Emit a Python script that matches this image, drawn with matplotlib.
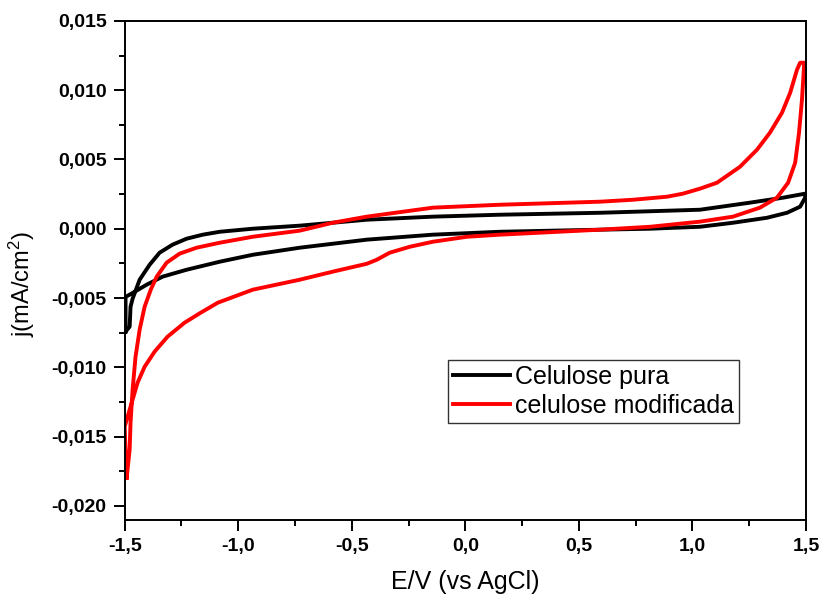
import matplotlib
matplotlib.use("Agg")
import matplotlib.pyplot as plt
from matplotlib.ticker import MultipleLocator, FuncFormatter

plt.rcParams['font.family'] = ['Liberation Sans', 'DejaVu Sans']
plt.rcParams['mathtext.default'] = 'regular'

# Celulose pura: anodic branch from -1.5 V to 1.5 V, then the return branch
pura_E = [-1.496, -1.478, -1.474, -1.465, -1.456, -1.434, -1.390, -1.346, -1.289,
          -1.227, -1.156, -1.081, -0.936, -0.729, -0.434, -0.143, 0.152, 0.593,
          1.033, 1.253, 1.399, 1.496,
          1.496, 1.474, 1.416, 1.328, 1.178, 1.033, 0.813, 0.593, 0.152, -0.143,
          -0.434, -0.729, -0.936, -1.081, -1.227, -1.333, -1.403, -1.478, -1.496,
          -1.496]
pura_j = [-0.00743, -0.00707, -0.00563, -0.00505, -0.00466, -0.00368, -0.00260,
          -0.00173, -0.00115, -0.00072, -0.00043, -0.00022, 0.00000, 0.00022,
          0.00065, 0.00087, 0.00101, 0.00115, 0.00137, 0.00188, 0.00224, 0.00253,
          0.00224, 0.00159, 0.00115, 0.00079, 0.00043, 0.00014, 0.00000, -0.00007,
          -0.00022, -0.00043, -0.00079, -0.00137, -0.00188, -0.00238, -0.00296,
          -0.00346, -0.00404, -0.00476, -0.00491,
          -0.00743]

# celulose modificada
mod_E = [-1.491, -1.478, -1.474, -1.465, -1.452, -1.434, -1.412, -1.385, -1.359,
         -1.315, -1.258, -1.183, -1.081, -0.936, -0.729, -0.584, -0.434, -0.143,
         0.152, 0.593, 0.738, 0.888, 0.958, 1.033, 1.108, 1.209, 1.284, 1.341,
         1.394, 1.430, 1.460, 1.474, 1.491,
         1.491, 1.482, 1.469, 1.452, 1.421, 1.372, 1.297, 1.178, 1.033, 0.813,
         0.593, 0.152, 0.007, -0.143, -0.244, -0.333, -0.390, -0.434, -0.584,
         -0.729, -0.936, -1.090, -1.165, -1.236, -1.311, -1.368, -1.412, -1.443,
         -1.465, -1.487, -1.500,
         -1.491]
mod_j = [-0.01797, -0.01595, -0.01400, -0.01162, -0.00924, -0.00729, -0.00563,
         -0.00440, -0.00346, -0.00245, -0.00180, -0.00137, -0.00101, -0.00058,
         -0.00014, 0.00043, 0.00087, 0.00152, 0.00173, 0.00195, 0.00209, 0.00231,
         0.00253, 0.00289, 0.00332, 0.00447, 0.00570, 0.00693, 0.00837, 0.00981,
         0.01147, 0.01198, 0.01198,
         0.01169, 0.00931, 0.00693, 0.00476, 0.00332, 0.00224, 0.00152, 0.00087,
         0.00051, 0.00014, -0.00007, -0.00043, -0.00058, -0.00094, -0.00130,
         -0.00173, -0.00224, -0.00253, -0.00310, -0.00368, -0.00440, -0.00534,
         -0.00606, -0.00678, -0.00779, -0.00887, -0.00996, -0.01111, -0.01234,
         -0.01356, -0.01429,
         -0.01797]

labels = ['Celulose pura', 'celulose modificada']

fig = plt.figure(figsize=(8.2, 5.96), dpi=100)
ax = fig.add_axes([0.152, 0.128, 0.831, 0.837])

ax.plot(pura_E, pura_j, color='black', lw=2.8, label=labels[0], solid_joinstyle='round')
ax.plot(mod_E, mod_j, color='#ff0000', lw=2.8, label=labels[1], solid_joinstyle='round')

ax.set_xlim(-1.5, 1.5)
ax.set_ylim(-0.021, 0.015)

ax.xaxis.set_major_locator(MultipleLocator(0.5))
ax.xaxis.set_minor_locator(MultipleLocator(0.25))
ax.yaxis.set_major_locator(MultipleLocator(0.005))
ax.yaxis.set_minor_locator(MultipleLocator(0.0025))
ax.xaxis.set_major_formatter(FuncFormatter(lambda v, p: f"{v:.1f}".replace('.', ',').replace('-0,0', '0,0')))
ax.yaxis.set_major_formatter(FuncFormatter(lambda v, p: f"{v:.3f}".replace('.', ',').replace('-0,000', '0,000')))

ax.tick_params(which='both', direction='out', top=False, right=False, width=1.4)
ax.tick_params(which='major', length=8, labelsize=14, pad=5)
ax.tick_params(which='minor', length=4.5)
for t in ax.get_xticklabels() + ax.get_yticklabels():
    t.set_fontweight('bold')
for s in ax.spines.values():
    s.set_linewidth(1.4)

ax.set_xlabel('E/V (vs AgCl)', fontsize=18, labelpad=11)
ax.set_ylabel('j(mA/cm$^2$)', fontsize=17)
ax.yaxis.set_label_coords(-0.128, 0.473)

leg = ax.legend(loc='upper left', bbox_to_anchor=(0.474, 0.321), borderaxespad=0,
                fontsize=18, frameon=True, fancybox=False, framealpha=1,
                edgecolor='#333333', borderpad=0.2, labelspacing=0.2,
                handlelength=2.3, handletextpad=0.2)
leg.get_frame().set_linewidth(1.0)

fig.savefig('out.png', dpi=100)
